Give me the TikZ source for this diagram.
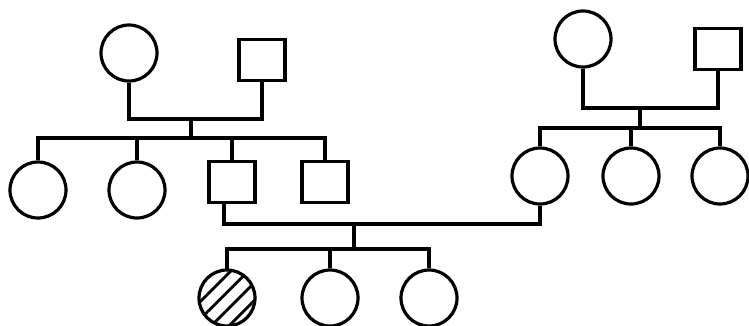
\documentclass[tikz,border=0pt]{standalone}
\usepackage{tikz}
\usetikzlibrary{positioning, patterns.meta}

\begin{document}
\begin{tikzpicture}[
    x=1pt, y=-1pt,
    female/.style={circle, draw, line width=3.2pt, inner sep=0pt, minimum size=56pt},
    male/.style={rectangle, draw, line width=3.2pt, inner sep=0pt,
                 minimum width=46pt, minimum height=41pt},
    affected/.style={female, pattern={Lines[angle=45, distance=12.5pt, line width=2.8pt]}},
    link/.style={line width=3.2pt, line join=miter},
  ]
    \useasboundingbox (0,0) rectangle (749,325);

    % Left grandparents
    \node[female] (gmL) at (129,53) {};
    \node[male]   (gfL) at (262,60) {};
    \coordinate (mL) at (191,119);
    \coordinate (sL) at (191,138);

    % Left siblings
    \node[female] (aL1) at (38,190) {};
    \node[female] (aL2) at (137,190) {};
    \node[male]   (aL3) at (232,182) {};
    \node[male]   (aL4) at (325,182) {};

    % Right grandparents
    \node[female] (gmR) at (583,39) {};
    \node[male]   (gfR) at (718,49) {};
    \coordinate (mR) at (640,108);
    \coordinate (sR) at (640,128);

    % Right siblings
    \node[female] (aR1) at (540,176) {};
    \node[female] (aR2) at (631,176) {};
    \node[female] (aR3) at (720,176) {};

    % Children
    \coordinate (mC) at (354,224);
    \coordinate (sC) at (354,249);
    \node[affected] (k1) at (227,298) {};
    \node[female]   (k2) at (330,298) {};
    \node[female]   (k3) at (429,298) {};

    % Left family
    \draw[link] (gmL.south) |- (mL) -| (gfL.south);
    \draw[link] (mL) -- (sL);
    \draw[link] (aL1.north) |- (aL4.north |- sL) -- (aL4.north);
    \draw[link] (aL2.north) -- (aL2.north |- sL);
    \draw[link] (aL3.north) -- (aL3.north |- sL);

    % Right family
    \draw[link] (gmR.south) |- (mR) -| (gfR.south);
    \draw[link] (mR) -- (sR);
    \draw[link] (aR1.north) |- (aR3.north |- sR) -- (aR3.north);
    \draw[link] (aR2.north) -- (aR2.north |- sR);

    % Marriage and children
    \draw[link] ([xshift=-8pt]aL3.south) |- (mC) -| (aR1.south);
    \draw[link] (mC) -- (sC);
    \draw[link] (k1.north) |- (k3.north |- sC) -- (k3.north);
    \draw[link] (k2.north) -- (k2.north |- sC);
\end{tikzpicture}
\end{document}
